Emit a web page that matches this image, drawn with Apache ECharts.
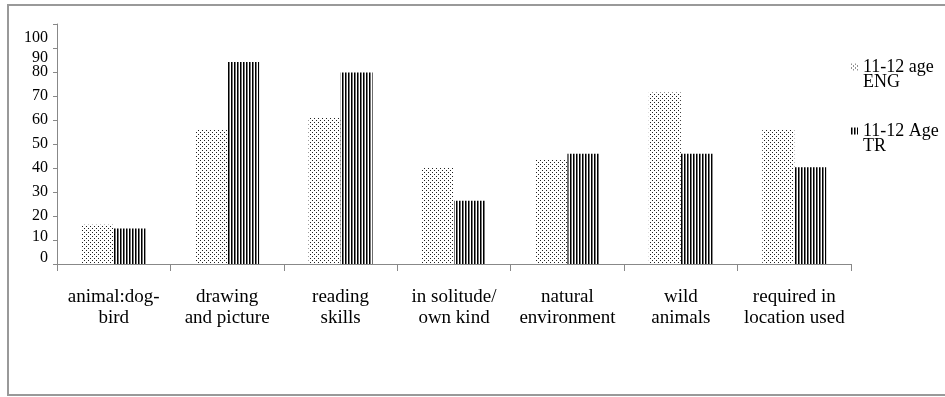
<!DOCTYPE html>
<html>
<head>
<meta charset="utf-8">
<script src="https://cdn.jsdelivr.net/npm/echarts@6/dist/echarts.min.js"></script>
<style>
html,body{margin:0;padding:0;background:#fff;}
#chart{width:945px;height:397px;}
</style>
</head>
<body>
<div id="chart"></div>
<script>
// ---- data ----
const categories = ['animal:dog-\nbird', 'drawing\nand picture', 'reading\nskills', 'in solitude/\nown kind', 'natural\nenvironment', 'wild\nanimals', 'required in\nlocation used'];
const seriesNames = ['11-12 age\nENG', '11-12 Age\nTR'];
const engValues = [16.4, 56, 61.3, 40.4, 43.5, 71.5, 56];
const trValues = [14.8, 84.2, 79.8, 26.4, 45.9, 45.9, 40.3];
const yMin = 0, yMax = 100, yStep = 10;

// ---- fill patterns ----
function dotPattern() {
  const c = document.createElement('canvas');
  c.width = 4; c.height = 4;
  const g = c.getContext('2d');
  g.fillStyle = '#fff'; g.fillRect(0, 0, 4, 4);
  g.fillStyle = '#222';
  g.fillRect(0, 0, 1, 1);
  g.fillRect(2, 2, 1, 1);
  return c;
}
function stripePattern() {
  const c = document.createElement('canvas');
  c.width = 3; c.height = 2;
  const g = c.getContext('2d');
  g.fillStyle = '#000'; g.fillRect(0, 0, 1, 2);
  g.fillStyle = '#777'; g.fillRect(1, 0, 1, 2);
  g.fillStyle = '#fff'; g.fillRect(2, 0, 1, 2);
  return c;
}
const engFill = { image: dotPattern(), repeat: 'repeat' };
const trFill = { image: stripePattern(), repeat: 'repeat' };

const serif = '"Liberation Serif", "Times New Roman", serif';

// vertical nudges of the y tick labels, as in the original drawing
function yLabel(v) {
  if (v === 100) return '{d28|' + v + '}';
  if (v === 90) return '{d20|' + v + '}';
  if (v === 10) return '{u7|' + v + '}';
  if (v === 0) return '{u12|' + v + '}';
  return '{n|' + v + '}';
}
const yLab = { fontFamily: serif, fontSize: 16, color: '#000' };

const legendText = { fontFamily: serif, fontSize: 18, color: '#000', lineHeight: 15 };

const chart = echarts.init(document.getElementById('chart'), null, { renderer: 'canvas' });
chart.setOption({
  animation: false,
  backgroundColor: '#fff',
  graphic: [{
    type: 'rect',
    shape: { x: 8, y: 5, width: 960, height: 390 },
    style: { fill: 'none', stroke: '#999', lineWidth: 2 },
    silent: true
  }],
  grid: { left: 57, right: 94, top: 24, bottom: 133, containLabel: false },
  legend: [{
    data: [seriesNames[0]],
    left: 846,
    top: 38,
    icon: 'rect',
    itemWidth: 7,
    itemHeight: 7,
    formatter: n => ' \n' + n,
    textStyle: legendText
  }, {
    data: [seriesNames[1]],
    left: 846,
    top: 102,
    icon: 'rect',
    itemWidth: 7,
    itemHeight: 7,
    formatter: n => ' \n' + n,
    textStyle: legendText
  }],
  xAxis: {
    type: 'category',
    data: categories,
    axisLine: { lineStyle: { color: '#888', width: 1 } },
    axisTick: { show: true, alignWithLabel: false, length: 7, lineStyle: { color: '#888' } },
    axisLabel: { fontFamily: serif, fontSize: 19, color: '#000', margin: 23, lineHeight: 21, interval: 0 }
  },
  yAxis: {
    type: 'value',
    min: yMin, max: yMax, interval: yStep,
    axisLine: { show: true, lineStyle: { color: '#888', width: 1 } },
    axisTick: { show: true, length: 4, lineStyle: { color: '#888' } },
    splitLine: { show: false },
    axisLabel: {
      margin: 9,
      formatter: yLabel,
      rich: {
        n: yLab,
        d28: Object.assign({ padding: [28, 0, 0, 0] }, yLab),
        d20: Object.assign({ padding: [20, 0, 0, 0] }, yLab),
        u7: Object.assign({ padding: [0, 0, 7, 0] }, yLab),
        u12: Object.assign({ padding: [0, 0, 12, 0] }, yLab)
      }
    }
  },
  series: [{
    name: seriesNames[0],
    type: 'bar',
    data: engValues,
    barWidth: 32,
    barGap: '0%',
    itemStyle: { color: engFill }
  }, {
    name: seriesNames[1],
    type: 'bar',
    data: trValues,
    barWidth: 32,
    barGap: '0%',
    itemStyle: { color: trFill }
  }]
});
</script>
</body>
</html>
